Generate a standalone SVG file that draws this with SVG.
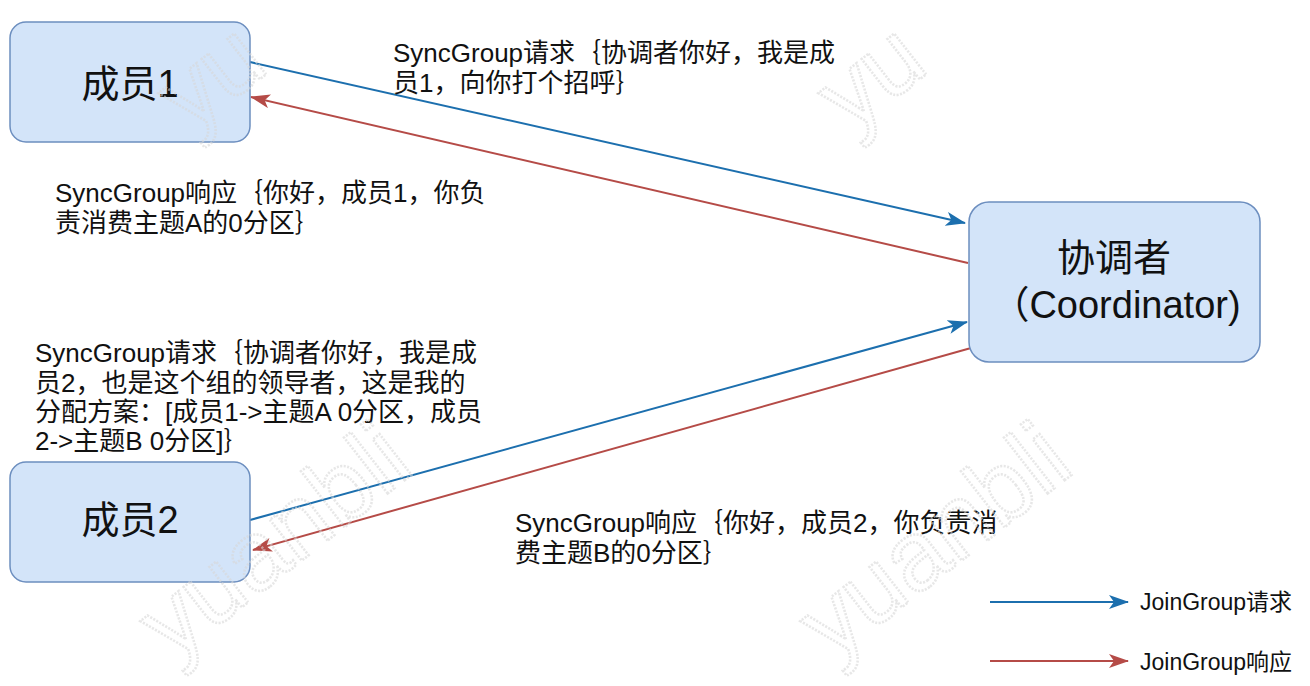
<svg xmlns="http://www.w3.org/2000/svg" width="1310" height="686" viewBox="0 0 1310 686">
<defs>
<style>
.node rect{fill:#d3e4f9;stroke:#6c8ebf;stroke-width:1.5}
.ntext{font-family:"Liberation Sans","Noto Sans CJK SC",sans-serif;font-size:38px;fill:#111;text-anchor:middle}
.lbl{font-family:"Liberation Sans","Noto Sans CJK SC",sans-serif;font-size:26px;fill:#111}
.leg{font-family:"Liberation Sans","Noto Sans CJK SC",sans-serif;font-size:23px;fill:#111}
.req{stroke:#1c6fae;stroke-width:2;fill:none}
.resp{stroke:#b54b47;stroke-width:2;fill:none}
.wm{font-family:"Liberation Sans",sans-serif;font-size:98px;fill:none;stroke:#d8d8d8;stroke-width:2.5;stroke-dasharray:2 1.5;opacity:0.6}
</style>
<marker id="mb" viewBox="0 0 20 14" refX="19" refY="7" markerWidth="20" markerHeight="14" markerUnits="userSpaceOnUse" orient="auto">
<path d="M0,0 L20,7 L0,14 L5,7 z" fill="#1c6fae"/>
</marker>
<marker id="mr" viewBox="0 0 20 14" refX="19" refY="7" markerWidth="20" markerHeight="14" markerUnits="userSpaceOnUse" orient="auto">
<path d="M0,0 L20,7 L0,14 L5,7 z" fill="#b54b47"/>
</marker>
</defs>
<rect width="1310" height="686" fill="#ffffff"/>
<g id="connectors">
<line class="req" x1="250" y1="62" x2="965" y2="223" marker-end="url(#mb)"/>
<line class="resp" x1="968" y1="263" x2="251" y2="97" marker-end="url(#mr)"/>
<line class="req" x1="250" y1="520" x2="967" y2="322" marker-end="url(#mb)"/>
<line class="resp" x1="971" y1="348" x2="253" y2="550" marker-end="url(#mr)"/>
</g>
<g id="member1" class="node">
<rect x="10" y="22" width="240" height="120" rx="16"/>
<text class="ntext" x="130" y="97">成员1</text>
</g>
<g id="member2" class="node">
<rect x="10" y="462" width="240" height="120" rx="16"/>
<text class="ntext" x="130" y="533">成员2</text>
</g>
<g id="coordinator" class="node">
<rect x="969" y="202" width="291" height="160" rx="20"/>
<text class="ntext" x="1114" y="271">协调者</text>
<text class="ntext" x="1116" y="318">（Coordinator)</text>
</g>
<g id="label-sync-req1">
<text class="lbl" x="393" y="62">SyncGroup请求｛协调者你好，我是成</text>
<text class="lbl" x="393" y="92">员1，向你打个招呼｝</text>
</g>
<g id="label-sync-resp1">
<text class="lbl" x="55" y="202">SyncGroup响应｛你好，成员1，你负</text>
<text class="lbl" x="55" y="232">责消费主题A的0分区｝</text>
</g>
<g id="label-sync-req2">
<text class="lbl" x="35" y="362">SyncGroup请求｛协调者你好，我是成</text>
<text class="lbl" x="35" y="392">员2，也是这个组的领导者，这是我的</text>
<text class="lbl" x="35" y="421">分配方案：[成员1-&gt;主题A 0分区，成员</text>
<text class="lbl" x="35" y="450">2-&gt;主题B 0分区]｝</text>
</g>
<g id="label-sync-resp2">
<text class="lbl" x="515" y="532">SyncGroup响应｛你好，成员2，你负责消</text>
<text class="lbl" x="515" y="562">费主题B的0分区｝</text>
</g>
<g id="legend">
<line class="req" x1="990" y1="602" x2="1128" y2="602" marker-end="url(#mb)"/>
<text class="leg" x="1140" y="610">JoinGroup请求</text>
<line class="resp" x1="990" y1="661" x2="1128" y2="661" marker-end="url(#mr)"/>
<text class="leg" x="1140" y="670">JoinGroup响应</text>
</g>
<g id="watermarks">
<text class="wm" transform="translate(190,134) rotate(-38)">yu</text>
<text class="wm" transform="translate(850,134) rotate(-38)">yu</text>
<text class="wm" transform="translate(172,662) rotate(-38)">yuanbli</text>
<text class="wm" transform="translate(832,662) rotate(-38)">yuanbli</text>
</g>
</svg>
